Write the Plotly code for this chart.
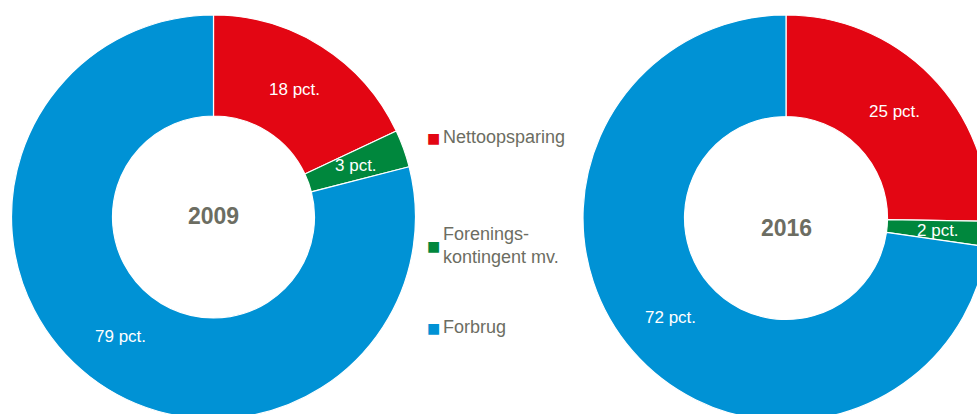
import math
import plotly.graph_objects as go

# ---- data ----
categories = ["Nettoopsparing", "Forenings-<br>kontingent mv.", "Forbrug"]
legend_labels = ["Nettoopsparing", "Forenings-<br>kontingent mv.", "Forbrug"]
years = ["2009", "2016"]
values_2009 = [18, 3, 79]
values_2016 = [25, 2, 72]
colors = ["#e30613", "#00873d", "#0092d5"]

# ---- layout (pixels) ----
W, H = 992, 422
TXT = "#6c6d62"
FONT = "Liberation Sans Narrow, Arial Narrow, Liberation Sans, Arial, sans-serif"
HOLE = 0.5

# pie boxes in pixel space: (x0, x1, ytop, ybottom)
boxes = [(11.5, 415.5, 15, 419), (583, 989, 15, 421)]
year_label_dy = [-1, 10]


def px_to_paper(x, y):
    return x / W, 1 - y / H


fig = go.Figure()
annotations = []

for vals, year, (x0, x1, yt, yb), dy in zip([values_2009, values_2016], years, boxes, year_label_dy):
    fig.add_trace(go.Pie(
        labels=categories, values=vals, hole=HOLE, sort=False,
        direction="clockwise", rotation=0,
        marker=dict(colors=colors, line=dict(color="white", width=1.2)),
        textinfo="none", hoverinfo="label+value",
        domain=dict(x=[x0 / W, x1 / W], y=[1 - yb / H, 1 - yt / H]),
        showlegend=False,
    ))
    cx, cy = (x0 + x1) / 2, (yt + yb) / 2
    R = min(x1 - x0, yb - yt) / 2
    rt = R * (1 + HOLE) / 2
    total = sum(vals)
    cum = 0
    for v in vals:
        th = 2 * math.pi * (cum + v / 2) / total
        cum += v
        px, py = px_to_paper(cx + rt * math.sin(th), cy - rt * math.cos(th))
        annotations.append(dict(x=px, y=py, xref="paper", yref="paper",
                                xanchor="center", yanchor="middle",
                                text=f"{v} pct.", showarrow=False,
                                font=dict(family=FONT, size=17, color="white")))
    px, py = px_to_paper(cx, cy + dy)
    annotations.append(dict(x=px, y=py, xref="paper", yref="paper",
                            xanchor="center", yanchor="middle",
                            text=f"<b>{year}</b>", showarrow=False,
                            font=dict(family=FONT, size=23, color=TXT)))

# legend built as text
legend_y = [137, 245, 327]
for lab, col, ly in zip(legend_labels, colors, legend_y):
    px, py = px_to_paper(425, ly + 1)
    annotations.append(dict(x=px, y=py, xref="paper", yref="paper",
                            xanchor="left", yanchor="middle",
                            text=f"<span style='color:{col}'>■</span>",
                            showarrow=False,
                            font=dict(family="DejaVu Sans", size=14)))
    px, py = px_to_paper(441, ly)
    annotations.append(dict(x=px, y=py, xref="paper", yref="paper",
                            text=lab, showarrow=False, xanchor="left", yanchor="middle",
                            align="left",
                            font=dict(family=FONT, size=18, color=TXT)))

fig.update_layout(
    width=W, height=H, margin=dict(l=0, r=0, t=0, b=0),
    paper_bgcolor="white", plot_bgcolor="white",
    annotations=annotations,
)

fig.write_html("out.html", config={"displayModeBar": False},
               post_script="document.body.style.margin='0';document.body.style.overflow='hidden';")
